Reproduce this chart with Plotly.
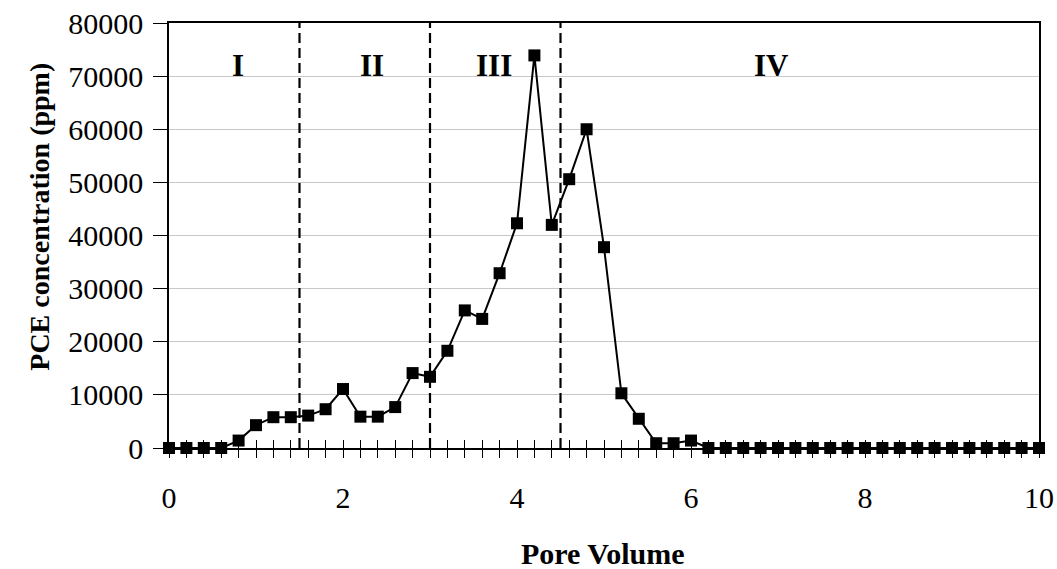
import plotly.graph_objects as go

# Pore volumes sampled (every 0.2 PV)
pore_volume = [0.0, 0.2, 0.4, 0.6, 0.8, 1.0, 1.2, 1.4, 1.6, 1.8,
               2.0, 2.2, 2.4, 2.6, 2.8, 3.0, 3.2, 3.4, 3.6, 3.8,
               4.0, 4.2, 4.4, 4.6, 4.8, 5.0, 5.2, 5.4, 5.6, 5.8,
               6.0, 6.2, 6.4, 6.6, 6.8, 7.0, 7.2, 7.4, 7.6, 7.8,
               8.0, 8.2, 8.4, 8.6, 8.8, 9.0, 9.2, 9.4, 9.6, 9.8, 10.0]

# PCE concentration in effluent (ppm)
pce_ppm = [0, 0, 0, 0, 1400, 4300, 5800, 5800, 6100, 7300,
           11100, 5900, 5900, 7700, 14100, 13400, 18300, 25900, 24300, 32900,
           42300, 73900, 42000, 50600, 60000, 37800, 10300, 5500, 900, 900,
           1400, 0, 0, 0, 0, 0, 0, 0, 0, 0,
           0, 0, 0, 0, 0, 0, 0, 0, 0, 0, 0]

# Stage boundaries and stage labels
stage_bounds = [1.5, 3.0, 4.5]
stage_names = ["I", "II", "III", "IV"]
stage_label_x = [0.79, 2.33, 3.73, 6.92]
stage_label_y = 72000

# Axis ticks
x_minor_ticks = pore_volume
x_major_ticks = [0, 2, 4, 6, 8, 10]
x_tick_labels = ["0", "2", "4", "6", "8", "10"]
y_ticks = [0, 10000, 20000, 30000, 40000, 50000, 60000, 70000, 80000]
y_tick_labels = ["0", "10000", "20000", "30000", "40000", "50000", "60000", "70000", "80000"]

SERIF = "Liberation Serif, Times New Roman, serif"

fig = go.Figure()

fig.add_trace(go.Scatter(
    x=pore_volume, y=pce_ppm, mode="lines+markers",
    line=dict(color="black", width=2),
    marker=dict(symbol="square", size=12, color="black"),
    cliponaxis=False, showlegend=False, hoverinfo="x+y",
))

# invisible trace so the overlay axis (inner half of the crossing ticks) is drawn
fig.add_trace(go.Scatter(
    x=[0, 10], y=[0, 0], xaxis="x2", mode="markers",
    marker=dict(opacity=0), showlegend=False, hoverinfo="skip",
))

for xb in stage_bounds:
    fig.add_shape(type="line", xref="x", yref="y", x0=xb, x1=xb, y0=0, y1=80000,
                  line=dict(color="black", width=2.2, dash="10px,5px"))

for name, sx in zip(stage_names, stage_label_x):
    fig.add_annotation(x=sx, y=stage_label_y, xref="x", yref="y", text=f"<b>{name}</b>",
                       showarrow=False, font=dict(family=SERIF, size=31, color="black"))

# y-axis title
fig.add_annotation(xref="paper", yref="paper", x=0, xshift=-147, y=0.543,
                   text="<b>PCE concentration (ppm)</b>", textangle=-90, showarrow=False,
                   font=dict(family=SERIF, size=28, color="black"))
# x-axis title
fig.add_annotation(xref="paper", yref="paper", x=0.499, y=0, yshift=-105,
                   text="<b>Pore Volume</b>", showarrow=False, yanchor="middle",
                   font=dict(family=SERIF, size=30, color="black"))

fig.update_layout(
    template="none",
    width=1057, height=569,
    margin=dict(l=169, r=18, t=23, b=121, autoexpand=False),
    paper_bgcolor="white", plot_bgcolor="white",
    font=dict(family=SERIF, color="black"),
    xaxis=dict(
        range=[0, 10], tickmode="array", tickvals=x_major_ticks, ticktext=x_tick_labels,
        ticks="outside", ticklen=8, tickwidth=1.2, tickcolor="black",
        minor=dict(tickmode="array", tickvals=x_minor_ticks, ticks="outside",
                   ticklen=8, tickwidth=1.2, tickcolor="black", showgrid=False),
        showline=True, linecolor="black", linewidth=1.5, mirror=True,
        showgrid=False, zeroline=False, layer="below traces", automargin=False,
        tickfont=dict(family=SERIF, size=30, color="black"), ticklabelstandoff=14,
    ),
    xaxis2=dict(
        overlaying="x", anchor="y", range=[0, 10], tickmode="array",
        tickvals=x_minor_ticks, ticks="inside", ticklen=8, tickwidth=1.2, tickcolor="black",
        showticklabels=False, showgrid=False, showline=False, zeroline=False,
        layer="below traces", automargin=False,
    ),
    yaxis=dict(
        range=[0, 80000], tickmode="array", tickvals=y_ticks, ticktext=y_tick_labels,
        ticks="outside", ticklen=14, tickwidth=1.2, tickcolor="black",
        showline=True, linecolor="black", linewidth=1.5, mirror=True,
        showgrid=True, gridcolor="#c8c8c8", gridwidth=1, zeroline=False,
        layer="below traces", automargin=False,
        tickfont=dict(family=SERIF, size=30, color="black"), ticklabelstandoff=4,
    ),
)

fig.write_html("out.html")
